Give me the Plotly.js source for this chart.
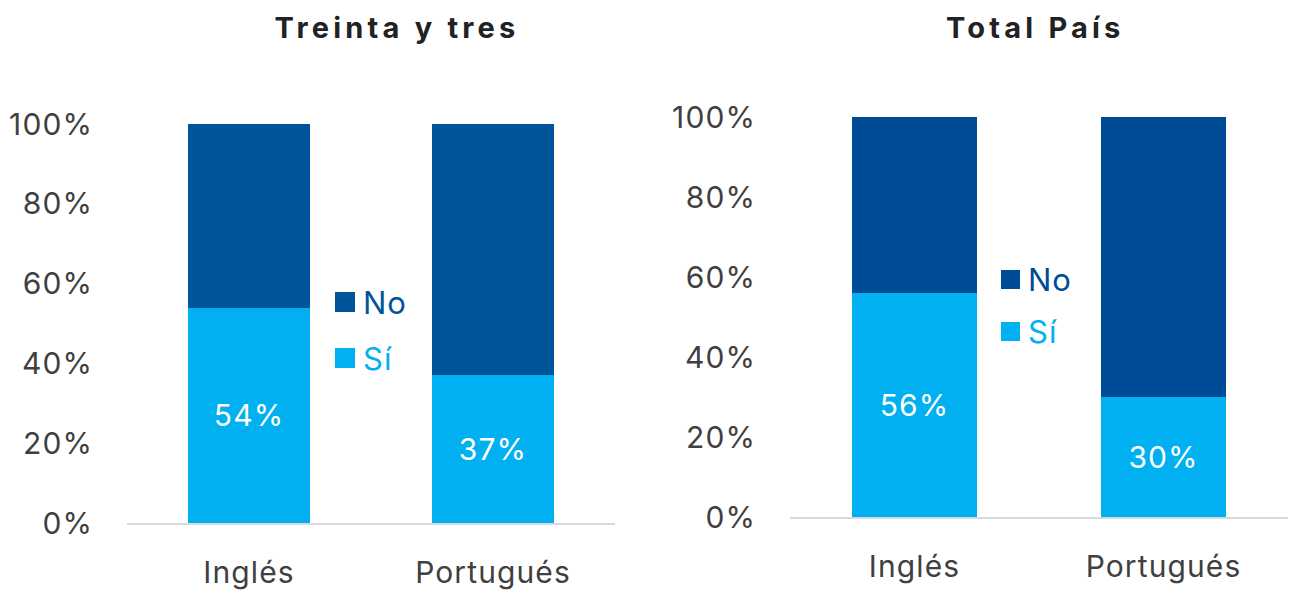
<!DOCTYPE html>
<html>
<head>
<meta charset="utf-8">
<script src="https://cdn.plot.ly/plotly-3.0.1.min.js"></script>
<style>
html,body{margin:0;padding:0;background:#fff;}
#chart{width:1290px;height:592px;}
#chart svg text{letter-spacing:1.1px;}
</style>
</head>
<body>
<div id="chart"></div>
<script>
const categories = ["Inglés", "Portugués"];
const panelTitles = ["Treinta y tres", "Total País"];
const siLeft = [54, 37];
const noLeft = [46, 63];
const siRight = [56, 30];
const noRight = [44, 70];
const seriesNames = ["Sí", "No"];
const yTicks = [0, 20, 40, 60, 80, 100];
const yTickText = ["0%", "20%", "40%", "60%", "80%", "100%"];

const FONT = "Inter, 'Open Sans', sans-serif";
const SI_COLOR = "#00B0F0";
const NO_LEFT = "#00549A";
const NO_RIGHT = "#004B96";
const TXT = "#404040";

const pct = v => v.map(x => x / 100);

const traces = [
  {type:"bar", x:categories, y:pct(siLeft), name:seriesNames[0], marker:{color:SI_COLOR},
   text:siLeft.map(v=>v+"%"), textposition:"inside", insidetextanchor:"middle",
   textfont:{family:FONT,size:30,color:"#fff"}, xaxis:"x", yaxis:"y", showlegend:false, hoverinfo:"skip"},
  {type:"bar", x:categories, y:pct(noLeft), name:seriesNames[1], marker:{color:NO_LEFT},
   textposition:"none", xaxis:"x", yaxis:"y", showlegend:false, hoverinfo:"skip"},
  {type:"bar", x:categories, y:pct(siRight), name:seriesNames[0], marker:{color:SI_COLOR},
   text:siRight.map(v=>v+"%"), textposition:"inside", insidetextanchor:"middle",
   textfont:{family:FONT,size:30,color:"#fff"}, xaxis:"x2", yaxis:"y2", showlegend:false, hoverinfo:"skip"},
  {type:"bar", x:categories, y:pct(noRight), name:seriesNames[1], marker:{color:NO_RIGHT},
   textposition:"none", xaxis:"x2", yaxis:"y2", showlegend:false, hoverinfo:"skip"}
];

const xCommon = {
  type:"category", range:[-0.5,1.5], showgrid:false, zeroline:false,
  showline:true, linecolor:"#D9D9D9", linewidth:2, ticks:"",
  tickfont:{family:FONT,size:30,color:TXT}, ticklabelstandoff:22, fixedrange:true
};
const yCommon = {
  range:[0,1], tickvals:yTicks.map(v=>v/100), ticktext:yTickText,
  showgrid:false, zeroline:false, showline:false, ticks:"",
  tickfont:{family:FONT,size:30,color:TXT}, ticklabelstandoff:33, fixedrange:true
};

const W = 1290, H = 592;
const px = x => x / W;
const py = y => (H - y) / H;

const layout = {
  width:W, height:H, margin:{l:0,r:0,t:0,b:0},
  paper_bgcolor:"#fff", plot_bgcolor:"#fff",
  barmode:"stack", bargap:0.5, showlegend:false,
  font:{family:FONT,color:TXT},
  xaxis:Object.assign({}, xCommon, {domain:[px(127), px(615)], anchor:"y"}),
  yaxis:Object.assign({}, yCommon, {domain:[py(523), py(124)], anchor:"x"}),
  xaxis2:Object.assign({}, xCommon, {domain:[px(790), px(1288)], anchor:"y2"}),
  yaxis2:Object.assign({}, yCommon, {domain:[py(517), py(117)], anchor:"x2"}),
  shapes:[
    {type:"rect", xref:"paper", yref:"paper", x0:px(335), x1:px(355), y0:py(312), y1:py(292), fillcolor:NO_LEFT, line:{width:0}},
    {type:"rect", xref:"paper", yref:"paper", x0:px(335), x1:px(355), y0:py(368), y1:py(348), fillcolor:SI_COLOR, line:{width:0}},
    {type:"rect", xref:"paper", yref:"paper", x0:px(1001), x1:px(1020), y0:py(289), y1:py(270), fillcolor:NO_RIGHT, line:{width:0}},
    {type:"rect", xref:"paper", yref:"paper", x0:px(1001), x1:px(1020), y0:py(341), y1:py(322), fillcolor:SI_COLOR, line:{width:0}}
  ],
  annotations:[
    {text:"<b>"+panelTitles[0]+"</b>", xref:"paper", yref:"paper", x:px(397), y:py(27), xanchor:"center", yanchor:"middle", showarrow:false, font:{family:FONT,size:29,color:"#222"}},
    {text:"<b>"+panelTitles[1]+"</b>", xref:"paper", yref:"paper", x:px(1035), y:py(27), xanchor:"center", yanchor:"middle", showarrow:false, font:{family:FONT,size:29,color:"#222"}},
    {text:seriesNames[1], xref:"paper", yref:"paper", x:px(362), y:py(302), xanchor:"left", yanchor:"middle", showarrow:false, font:{family:FONT,size:31,color:NO_LEFT}},
    {text:seriesNames[0], xref:"paper", yref:"paper", x:px(362), y:py(358), xanchor:"left", yanchor:"middle", showarrow:false, font:{family:FONT,size:31,color:SI_COLOR}},
    {text:seriesNames[1], xref:"paper", yref:"paper", x:px(1027), y:py(279), xanchor:"left", yanchor:"middle", showarrow:false, font:{family:FONT,size:31,color:NO_RIGHT}},
    {text:seriesNames[0], xref:"paper", yref:"paper", x:px(1027), y:py(331), xanchor:"left", yanchor:"middle", showarrow:false, font:{family:FONT,size:31,color:SI_COLOR}}
  ]
};

Plotly.newPlot("chart", traces, layout, {displayModeBar:false, staticPlot:true}).then(() => {
  document.querySelectorAll(".annotation-text").forEach(el => {
    if (el.innerHTML.indexOf("bold") >= 0) {
      el.style.letterSpacing = "4.2px";
    }
  });
});
</script>
</body>
</html>
